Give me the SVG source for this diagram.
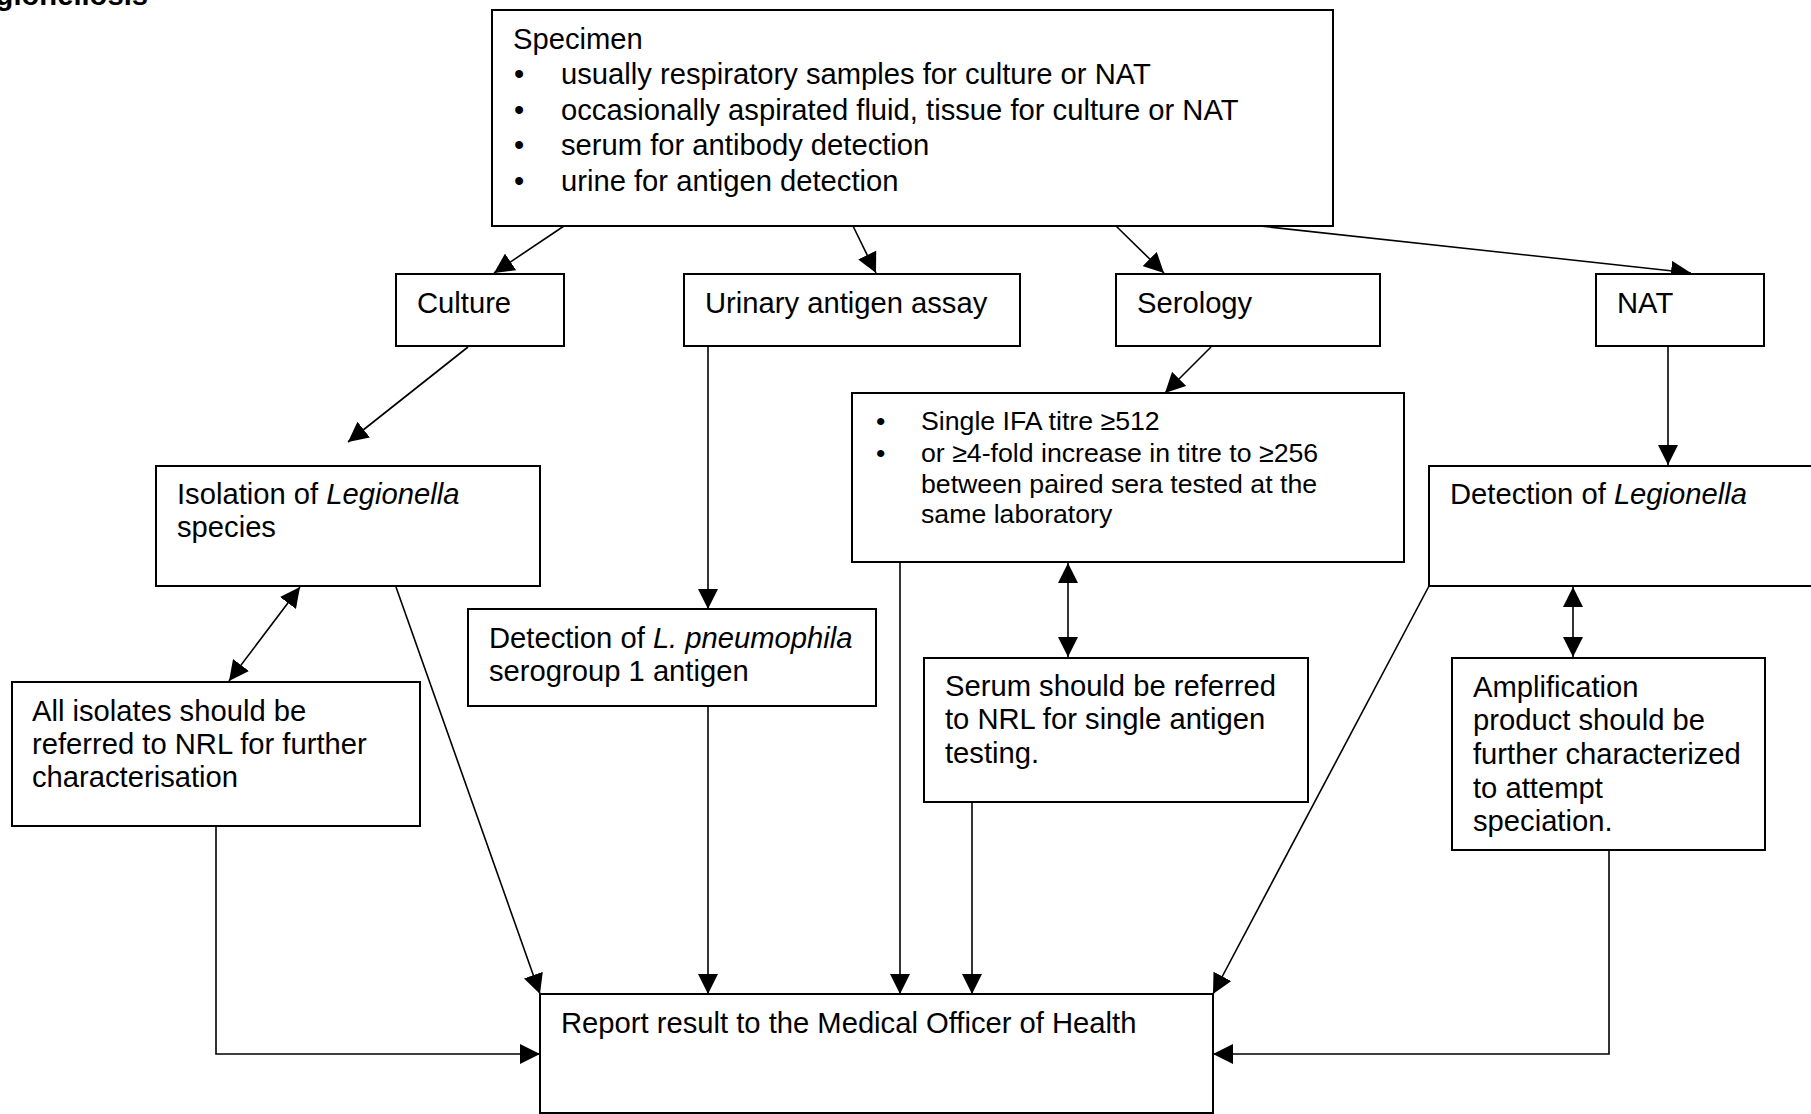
<svg xmlns="http://www.w3.org/2000/svg" width="1811" height="1114" viewBox="0 0 1811 1114">
<style>
  text { font-family: "Liberation Sans", Arial, sans-serif; font-size: 29.2px; fill: #000; }
  .sm { font-size: 26.7px; }
  .it { font-style: italic; }
  .title { font-weight: bold; }
  .box { fill: #fff; stroke: #000; stroke-width: 2; }
  .con { fill: none; stroke: #000; stroke-width: 1.6; }
</style>
<defs>
  <marker id="ah" markerUnits="userSpaceOnUse" markerWidth="20" markerHeight="20" refX="20" refY="10" orient="auto-start-reverse">
    <path d="M0,0 L20,10 L0,20 z" fill="#000"/>
  </marker>
</defs>
<rect width="1811" height="1114" fill="#fff"/>
<text class="title" x="148" y="5" text-anchor="end">gionellosis</text>

<g id="connectors">
  <line class="con" x1="564" y1="226" x2="494" y2="273" marker-end="url(#ah)"/>
  <line class="con" x1="853" y1="226" x2="876" y2="273" marker-end="url(#ah)"/>
  <line class="con" x1="1116" y1="226" x2="1164" y2="273" marker-end="url(#ah)"/>
  <line class="con" x1="1260" y1="226" x2="1691" y2="273" marker-end="url(#ah)"/>
  <line class="con" x1="468" y1="347" x2="348" y2="442" marker-end="url(#ah)"/>
  <line class="con" x1="708" y1="346" x2="708" y2="609" marker-end="url(#ah)"/>
  <line class="con" x1="1211" y1="347" x2="1165" y2="393" marker-end="url(#ah)"/>
  <line class="con" x1="1668" y1="346" x2="1668" y2="465" marker-end="url(#ah)"/>
  <line class="con" x1="300" y1="587" x2="229" y2="681" marker-start="url(#ah)" marker-end="url(#ah)"/>
  <line class="con" x1="396" y1="587" x2="540" y2="994" marker-end="url(#ah)"/>
  <line class="con" x1="708" y1="706" x2="708" y2="994" marker-end="url(#ah)"/>
  <line class="con" x1="900" y1="562" x2="900" y2="994" marker-end="url(#ah)"/>
  <line class="con" x1="1068" y1="563" x2="1068" y2="657" marker-start="url(#ah)" marker-end="url(#ah)"/>
  <line class="con" x1="972" y1="802" x2="972" y2="994" marker-end="url(#ah)"/>
  <line class="con" x1="1429" y1="586" x2="1213" y2="994" marker-end="url(#ah)"/>
  <line class="con" x1="1573" y1="587" x2="1573" y2="657" marker-start="url(#ah)" marker-end="url(#ah)"/>
  <polyline class="con" points="216,826 216,1054 540,1054" marker-end="url(#ah)"/>
  <polyline class="con" points="1609,850 1609,1054 1213,1054" marker-end="url(#ah)"/>
</g>

<g id="specimen">
  <rect class="box" x="492" y="10" width="841" height="216"/>
  <text x="513" y="49">Specimen</text>
  <text x="514" y="84">•</text><text x="561" y="84">usually respiratory samples for culture or NAT</text>
  <text x="514" y="120">•</text><text x="561" y="120">occasionally aspirated fluid, tissue for culture or NAT</text>
  <text x="514" y="155">•</text><text x="561" y="155">serum for antibody detection</text>
  <text x="514" y="191">•</text><text x="561" y="191">urine for antigen detection</text>
</g>

<g id="culture">
  <rect class="box" x="396" y="274" width="168" height="72"/>
  <text x="417" y="313">Culture</text>
</g>
<g id="urinary">
  <rect class="box" x="684" y="274" width="336" height="72"/>
  <text x="705" y="313">Urinary antigen assay</text>
</g>
<g id="serology">
  <rect class="box" x="1116" y="274" width="264" height="72"/>
  <text x="1137" y="313">Serology</text>
</g>
<g id="nat">
  <rect class="box" x="1596" y="274" width="168" height="72"/>
  <text x="1617" y="313">NAT</text>
</g>

<g id="isolation">
  <rect class="box" x="156" y="466" width="384" height="120"/>
  <text x="177" y="504">Isolation of <tspan class="it">Legionella</tspan></text>
  <text x="177" y="537">species</text>
</g>

<g id="serology-result">
  <rect class="box" x="852" y="393" width="552" height="169"/>
  <text class="sm" x="876" y="430">•</text><text class="sm" x="921" y="430">Single IFA titre ≥512</text>
  <text class="sm" x="876" y="462">•</text><text class="sm" x="921" y="462">or ≥4-fold increase in titre to ≥256</text>
  <text class="sm" x="921" y="493">between paired sera tested at the</text>
  <text class="sm" x="921" y="523">same laboratory</text>
</g>

<g id="detection-legionella">
  <rect class="box" x="1429" y="466" width="420" height="120"/>
  <text x="1450" y="504">Detection of <tspan class="it">Legionella</tspan></text>
</g>

<g id="detection-pneumophila">
  <rect class="box" x="468" y="609" width="408" height="97"/>
  <text x="489" y="648">Detection of <tspan class="it">L. pneumophila</tspan></text>
  <text x="489" y="681">serogroup 1 antigen</text>
</g>

<g id="all-isolates">
  <rect class="box" x="12" y="682" width="408" height="144"/>
  <text x="32" y="721">All isolates should be</text>
  <text x="32" y="754">referred to NRL for further</text>
  <text x="32" y="787">characterisation</text>
</g>

<g id="serum-referred">
  <rect class="box" x="924" y="658" width="384" height="144"/>
  <text x="945" y="696">Serum should be referred</text>
  <text x="945" y="729">to NRL for single antigen</text>
  <text x="945" y="763">testing.</text>
</g>

<g id="amplification">
  <rect class="box" x="1452" y="658" width="313" height="192"/>
  <text x="1473" y="697">Amplification</text>
  <text x="1473" y="730">product should be</text>
  <text x="1473" y="764">further characterized</text>
  <text x="1473" y="798">to attempt</text>
  <text x="1473" y="831">speciation.</text>
</g>

<g id="report">
  <rect class="box" x="540" y="994" width="673" height="119"/>
  <text x="561" y="1033">Report result to the Medical Officer of Health</text>
</g>
</svg>
